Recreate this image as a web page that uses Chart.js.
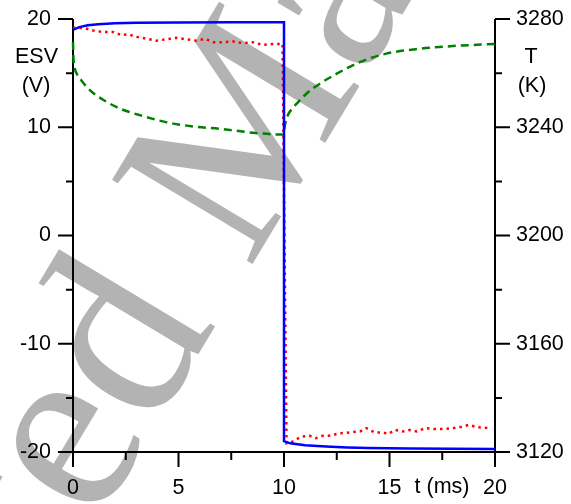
<!DOCTYPE html>
<html>
<head>
<meta charset="utf-8">
<script src="https://cdn.jsdelivr.net/npm/chart.js@4"></script>
<style>
  html, body { margin: 0; padding: 0; background: #fff; }
  canvas { display: block; }
</style>
</head>
<body>
<canvas id="chart" width="571" height="504"></canvas>
<script>
// applied electrode voltage (blue, left axis)
var esvTime  = [0, 0.3, 0.7, 1.2, 2, 3, 5, 7.5, 10, 10, 10.3, 11, 12, 13, 14, 16, 18, 20];
var esvVolts = [19.0, 19.25, 19.42, 19.52, 19.6, 19.65, 19.68, 19.7, 19.7, -19.0, -19.2, -19.38, -19.5, -19.58, -19.63, -19.68, -19.71, -19.72];

// measured voltage (red dotted, left axis)
var measTime  = [0, 0.55, 0.95, 1.4, 1.9, 2.3, 2.6, 3.0, 3.5, 3.95, 4.4, 4.9, 5.45, 5.85, 6.25, 6.65, 7.1, 7.6, 8.05, 8.5, 9.0, 9.5, 9.93,
                 10.12, 10.4, 10.8, 11.2, 11.5, 11.85, 12.25, 12.6, 13.1, 13.6, 13.9, 14.3, 14.7, 14.95, 15.25, 15.65, 15.95, 16.3, 16.7, 17.1, 17.5, 18.0, 18.35, 18.75, 19.15, 19.75];
var measVolts = [19.2, 19.15, 18.94, 18.8, 18.8, 18.5, 18.6, 18.35, 18.17, 18.0, 18.12, 18.26, 18.1, 18.0, 18.17, 17.86, 17.86, 17.92, 17.77, 17.86, 17.6, 17.7, 17.7,
                 -19.2, -19.04, -18.6, -18.49, -18.73, -18.49, -18.49, -18.27, -18.2, -18.1, -17.8, -18.2, -18.2, -18.33, -17.96, -18.1, -17.96, -18.1, -17.8, -17.87, -17.87, -17.8, -17.7, -17.5, -17.7, -17.8];

// temperature (green dashed, right axis)
var tempTime   = [0, 0.02, 0.08, 0.2, 0.4, 0.7, 1.1, 1.5, 2.05, 2.6, 3.2, 4.4, 5.7, 7.0, 8.5, 9.95, 10.0, 10.05, 10.18, 10.4, 10.6, 11.06, 11.7, 12.5, 13.6, 14.85, 16.4, 18.0, 20];
var tempKelvin = [3271.5, 3266, 3262, 3259.5, 3257.3, 3254.5, 3251.8, 3249.8, 3247.5, 3245.8, 3244.4, 3241.9, 3240.3, 3239.4, 3238.0, 3237.3, 3238.5, 3241, 3244.4, 3247, 3248.7, 3252.4, 3256.1, 3259.8, 3264.1, 3267.2, 3269.0, 3270.0, 3270.8];

var timeTicks = [0, 5, 10, 15, 20];
var timeMinor = [2.5, 7.5, 12.5, 17.5];
var voltTicks = [-20, -10, 0, 10, 20];
var voltMinor = [-15, -5, 5, 15];
var tempTicks = [3120, 3160, 3200, 3240, 3280];
var tempMinor = [3140, 3180, 3220, 3260];

var FONT = "'Liberation Sans', Arial, sans-serif";
var fontSize = 21.5;

function pts(xs, ys) {
  return xs.map(function (x, i) { return { x: x, y: ys[i] }; });
}
function fixTicks(arr) {
  return function (scale) { scale.ticks = arr.map(function (v) { return { value: v }; }); };
}
function plainLabel(v) { return String(v); }
// pin the scale boxes so the plot area lands where it is in the original
function fitTo(w, h) {
  return function (s) {
    if (w) s.width = w;
    if (h) s.height = h;
    s.paddingTop = 0; s.paddingBottom = 0; s.paddingLeft = 0; s.paddingRight = 0;
  };
}

var watermark = {
  id: 'watermark',
  beforeDraw: function (chart) {
    var ctx = chart.ctx;
    ctx.save();
    ctx.font = "250px 'Liberation Serif', 'Times New Roman', serif";
    ctx.fillStyle = '#b3b3b3';
    var pre = ctx.measureText('Accept').width;
    ctx.translate(95, 526);
    ctx.rotate(-59 * Math.PI / 180);
    ctx.textBaseline = 'alphabetic';
    ctx.fillText('Accepted Manuscript', -pre, 0);
    ctx.restore();
  }
};

var axes = {
  id: 'axes',
  beforeDatasetsDraw: function (chart) {
    var ctx = chart.ctx, a = chart.chartArea;
    var x = chart.scales.x, y = chart.scales.y, y1 = chart.scales.y1;
    ctx.save();
    ctx.strokeStyle = '#000';
    ctx.lineWidth = 2;
    ctx.beginPath();
    ctx.moveTo(a.left, a.top); ctx.lineTo(a.left, a.bottom);
    ctx.moveTo(a.right, a.top); ctx.lineTo(a.right, a.bottom);
    ctx.moveTo(a.left, a.bottom); ctx.lineTo(a.right, a.bottom);
    timeTicks.forEach(function (v) { var p = x.getPixelForValue(v); ctx.moveTo(p, a.bottom); ctx.lineTo(p, a.bottom + 15); });
    timeMinor.forEach(function (v) { var p = x.getPixelForValue(v); ctx.moveTo(p, a.bottom); ctx.lineTo(p, a.bottom + 8); });
    voltTicks.forEach(function (v) { var p = y.getPixelForValue(v); ctx.moveTo(a.left, p); ctx.lineTo(a.left - 15, p); });
    voltMinor.forEach(function (v) { var p = y.getPixelForValue(v); ctx.moveTo(a.left, p); ctx.lineTo(a.left - 7, p); });
    tempTicks.forEach(function (v) { var p = y1.getPixelForValue(v); ctx.moveTo(a.right, p); ctx.lineTo(a.right + 15, p); });
    tempMinor.forEach(function (v) { var p = y1.getPixelForValue(v); ctx.moveTo(a.right, p); ctx.lineTo(a.right + 7, p); });
    ctx.stroke();

    ctx.fillStyle = '#000';
    ctx.font = fontSize + 'px ' + FONT;
    ctx.textAlign = 'center';
    ctx.textBaseline = 'middle';
    ctx.fillText('ESV', 36.5, 57);
    ctx.fillText('(V)', 36, 86);
    ctx.fillText('T', 531, 57);
    ctx.fillText('(K)', 532, 86);
    ctx.fillText('t (ms)', 442, 487);
    ctx.restore();
  }
};

var tickFont = { family: FONT, size: fontSize };

new Chart(document.getElementById('chart').getContext('2d'), {
  type: 'line',
  data: {
    datasets: [{
      label: 'ESV',
      data: pts(esvTime, esvVolts),
      yAxisID: 'y',
      borderColor: '#0000ff',
      borderWidth: 2.5,
      tension: 0,
      order: 0
    }, {
      label: 'measured',
      data: pts(measTime, measVolts),
      yAxisID: 'y',
      borderColor: '#ff0000',
      borderWidth: 2.5,
      borderDash: [2.5, 4],
      tension: 0,
      order: 1
    }, {
      label: 'T',
      data: pts(tempTime, tempKelvin),
      yAxisID: 'y1',
      borderColor: '#008000',
      borderWidth: 2.5,
      borderDash: [8, 5],
      cubicInterpolationMode: 'monotone',
      order: 2
    }]
  },
  options: {
    responsive: false,
    animation: false,
    clip: false,
    layout: { padding: { top: 19, left: 0, right: 0, bottom: 0 } },
    elements: { point: { radius: 0 } },
    plugins: { legend: { display: false }, tooltip: { enabled: false } },
    scales: {
      x: {
        type: 'linear', min: 0, max: 20,
        grid: { display: false, drawTicks: false },
        border: { display: false },
        ticks: { font: tickFont, color: '#000', padding: 23, maxRotation: 0, autoSkip: false, callback: plainLabel },
        afterBuildTicks: fixTicks(timeTicks),
        afterFit: fitTo(0, 52)
      },
      y: {
        position: 'left', min: -20, max: 20,
        grid: { display: false, drawTicks: false },
        border: { display: false },
        ticks: { font: tickFont, color: '#000', padding: 22, callback: plainLabel },
        afterBuildTicks: fixTicks(voltTicks),
        afterFit: fitTo(73, 0)
      },
      y1: {
        position: 'right', min: 3120, max: 3280,
        grid: { display: false, drawTicks: false },
        border: { display: false },
        ticks: { font: tickFont, color: '#000', padding: 21, callback: plainLabel },
        afterBuildTicks: fixTicks(tempTicks),
        afterFit: fitTo(76, 0)
      }
    }
  },
  plugins: [watermark, axes]
});
</script>
</body>
</html>
